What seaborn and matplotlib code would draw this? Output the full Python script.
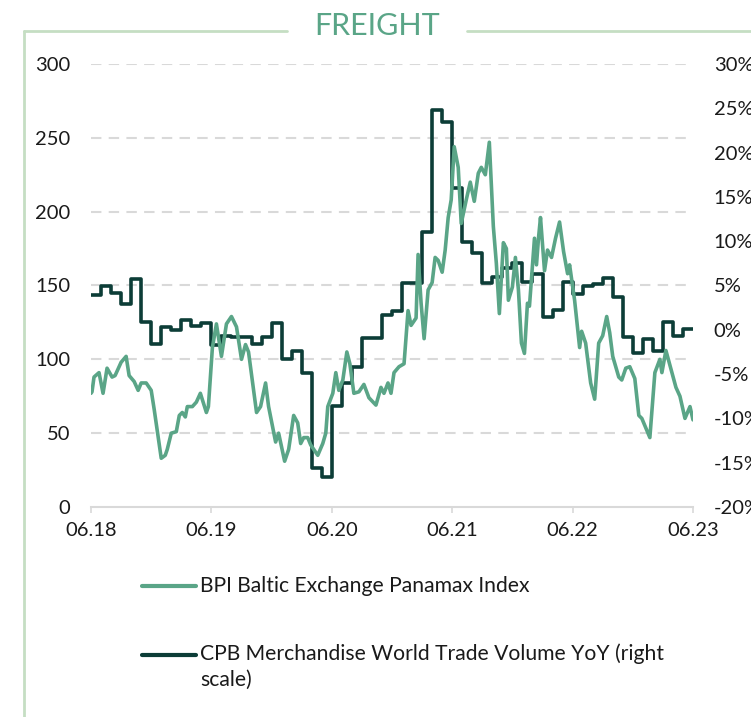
import matplotlib
matplotlib.use("Agg")
import matplotlib.pyplot as plt
from matplotlib.lines import Line2D
import seaborn as sns

# BPI Baltic Exchange Panamax Index (months since 06.18, index level)
bpi_month = [0.0, 0.1, 0.3, 0.8, 1.2, 1.6, 2.1, 2.4, 3.0, 3.5, 3.8, 4.3, 4.7, 5.0,
             5.5, 6.0, 6.3, 6.6, 7.0, 7.4, 7.6, 8.0, 8.5, 8.8, 9.1, 9.4, 9.6, 10.1,
             10.5, 10.9, 11.5, 11.7, 12.1, 12.5, 13.0, 13.5, 14.0, 14.5, 15.0, 15.4,
             15.7, 16.5, 16.9, 17.4, 17.7, 18.4, 18.7, 19.3, 19.7, 20.2, 20.6, 20.9,
             21.2, 21.6, 21.9, 22.6, 23.1, 23.4, 23.6, 24.1, 24.4, 24.7, 25.1, 25.5,
             25.8, 26.2, 26.7, 27.2, 27.7, 28.4, 28.9, 29.2, 29.6, 29.9, 30.2, 30.7,
             31.2, 31.6, 31.9, 32.4, 32.6, 32.9, 33.2, 33.6, 34.0, 34.3, 34.6, 35.0,
             35.3, 35.6, 35.9, 36.2, 36.6, 36.9, 37.4, 37.8, 38.2, 38.6, 38.9, 39.3,
             39.7, 40.1, 40.4, 40.7, 41.1, 41.4, 41.6, 42.0, 42.3, 42.6, 42.9, 43.2,
             43.5, 43.7, 44.2, 44.4, 44.6, 44.8, 45.2, 45.5, 45.9, 46.3, 46.7, 47.1,
             47.5, 47.7, 48.2, 48.5, 48.7, 48.9, 49.3, 49.8, 50.2, 50.6, 51.0, 51.4,
             51.7, 52.0, 52.6, 52.9, 53.3, 53.7, 54.2, 54.6, 54.9, 55.7, 56.2, 56.7,
             56.9, 57.3, 57.7, 58.3, 58.7, 59.2, 59.7, 60.0]
bpi_value = [77, 78, 88, 91, 77, 94, 88, 89, 98, 102, 89, 85, 79, 84,
             84, 79, 66, 52, 33, 35, 39, 50, 51, 62, 64, 61, 68, 68,
             71, 77, 64, 68, 108, 124, 102, 124, 129, 122, 100, 110,
             105, 64, 68, 84, 68, 44, 50, 31, 39, 62, 57, 43,
             47, 47, 42, 35, 43, 50, 68, 77, 91, 79, 86, 105,
             97, 77, 78, 83, 74, 69, 81, 77, 84, 77, 91, 95,
             97, 133, 123, 128, 171, 138, 114, 147, 152, 169, 167, 159,
             174, 196, 208, 244, 230, 192, 208, 220, 207, 226, 230, 225,
             247, 190, 165, 131, 179, 175, 140, 149, 169, 147, 111, 104,
             138, 136, 182, 164, 182, 196, 160, 174, 169, 182, 193, 173,
             158, 164, 140, 121, 108, 119, 111, 84, 73, 111, 116, 129,
             118, 102, 88, 86, 94, 95, 87, 62, 60, 47, 91, 100,
             91, 106, 96, 81, 75, 60, 68, 59]

# CPB Merchandise World Trade Volume YoY, monthly (%), last value repeated to close the step
cpb_month = list(range(61))
cpb_value = [3.9, 4.9, 4.2, 2.9, 5.7, 0.9, -1.6, 0.3, 0.0, 1.1, 0.4, 0.8,
             -1.7, -0.7, -0.8, -0.8, -1.6, -0.8, 0.8, -3.3, -2.4, -4.9, -15.6, -16.6,
             -8.6, -6.0, -4.2, -0.9, -0.9, 1.7, 2.1, 5.3, 5.3, 11.0, 24.8, 23.5,
             16.0, 9.9, 8.7, 5.3, 6.0, 7.0, 7.5, 5.4, 6.3, 1.4, 2.2, 5.4,
             4.0, 4.9, 5.2, 5.8, 3.7, -0.8, -2.6, -1.0, -2.4, 0.9, -0.7, 0.1, 0.1]

x_ticks = [0, 12, 24, 36, 48, 60]
x_labels = ["06.18", "06.19", "06.20", "06.21", "06.22", "06.23"]
left_ticks = [0, 50, 100, 150, 200, 250, 300]
right_ticks = [-20, -15, -10, -5, 0, 5, 10, 15, 20, 25, 30]

BPI_COLOR = "#5aa587"
CPB_COLOR = "#0c3d37"
FRAME = "#c5dec3"
GRID = "#d9d9d9"
LEFT_LIM = (0, 300)
RIGHT_LIM = (-20, 30)

sns.set_theme(style="white")
plt.rcParams["font.family"] = ["Lato", "DejaVu Sans"]
plt.rcParams["text.color"] = "#1a1a1a"

fig = plt.figure(figsize=(7.51, 7.17), dpi=100)
ax = fig.add_axes([91 / 751, 1 - 507 / 717, 602 / 751, 443 / 717])
ax2 = ax.twinx()

sns.lineplot(x=cpb_month, y=cpb_value, ax=ax2, color=CPB_COLOR, lw=2.6,
             drawstyle="steps-post", estimator=None)
sns.lineplot(x=bpi_month, y=bpi_value, ax=ax, color=BPI_COLOR, lw=2.6,
             estimator=None)

# BPI au-dessus, grille (alignée sur l'axe de gauche) portée par l'axe de droite
ax.set_zorder(ax2.get_zorder() + 1)
ax.patch.set_visible(False)

ax.set_xlim(0, 60)
ax.set_ylim(*LEFT_LIM)
ax2.set_ylim(*RIGHT_LIM)
ax.set_xticks(x_ticks, x_labels)
ax.set_yticks(left_ticks, [str(t) for t in left_ticks])
ax2.set_yticks(right_ticks, [f"{t}%" for t in right_ticks])
scale = (RIGHT_LIM[1] - RIGHT_LIM[0]) / (LEFT_LIM[1] - LEFT_LIM[0])
ax2.yaxis.remove_overlapping_locs = False
ax2.set_yticks([RIGHT_LIM[0] + t * scale for t in left_ticks[1:]], minor=True)
ax.set_xlabel(""); ax.set_ylabel(""); ax2.set_ylabel("")

for a in (ax, ax2):
    for s in a.spines.values():
        s.set_visible(False)
ax.spines["bottom"].set_visible(True)
ax.spines["bottom"].set_color(GRID)
ax.spines["bottom"].set_linewidth(1.5)

ax.tick_params(axis="x", length=4.5, width=1.2, color=GRID, pad=6,
               labelsize=14.5, labelcolor="#1a1a1a", bottom=True)
ax.tick_params(axis="y", length=0, pad=15, labelsize=14.5, labelcolor="#1a1a1a")
ax2.tick_params(axis="y", which="both", length=0, pad=15, labelsize=14.5,
                labelcolor="#1a1a1a")

ax.grid(False)
ax2.grid(False)
ax2.yaxis.grid(True, which="minor", color=GRID, lw=1.5, ls=(0, (5, 3.5)))
ax2.set_axisbelow(True)

# cadre vert et titre
fig.add_artist(Line2D([24 / 751, 24 / 751], [0, 1 - 31 / 717], color=FRAME, lw=2))
fig.add_artist(Line2D([24 / 751, 287 / 751], [1 - 31 / 717] * 2, color=FRAME, lw=2))
fig.add_artist(Line2D([467 / 751, 1], [1 - 31 / 717] * 2, color=FRAME, lw=2))
fig.text(377 / 751, 1 - 26 / 717, "FREIGHT", ha="center", va="center",
         fontsize=22, color=BPI_COLOR)

# légende
fig.add_artist(Line2D([142 / 751, 196 / 751], [1 - 586 / 717] * 2, color=BPI_COLOR, lw=3))
fig.text(200 / 751, 1 - 586 / 717, "BPI Baltic Exchange Panamax Index",
         ha="left", va="center", fontsize=15.2)
fig.add_artist(Line2D([142 / 751, 196 / 751], [1 - 655 / 717] * 2, color=CPB_COLOR, lw=3))
fig.text(200 / 751, 1 - 643 / 717,
         "CPB Merchandise World Trade Volume YoY (right\nscale)",
         ha="left", va="top", fontsize=15.2, linespacing=1.4)

fig.savefig("out.png", dpi=100)
